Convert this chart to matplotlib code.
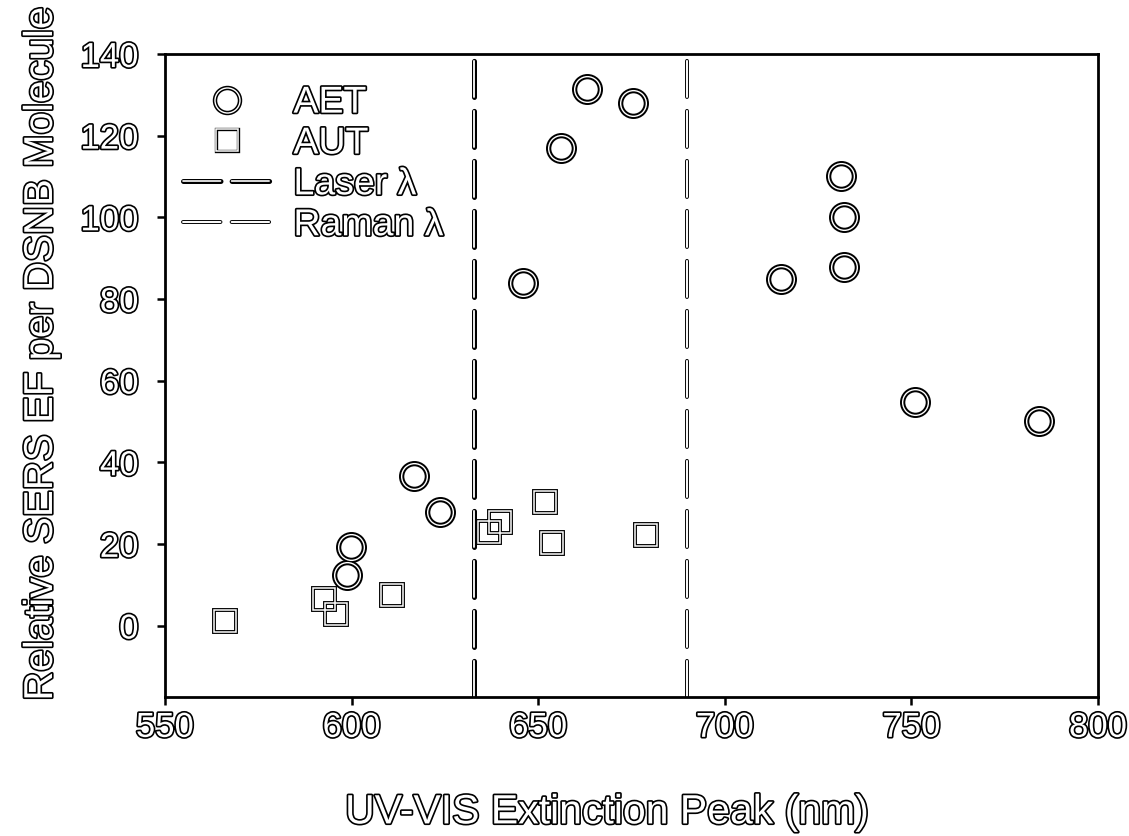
import matplotlib
matplotlib.use("Agg")
import matplotlib.pyplot as plt
import matplotlib.patheffects as pe
from matplotlib.lines import Line2D
from matplotlib.legend_handler import HandlerTuple

plt.rcParams["font.family"] = ["Liberation Sans", "DejaVu Sans"]
plt.rcParams["lines.scale_dashes"] = False

# extinction peak (nm) vs relative enhancement factor
aet_peak = [599.9, 598.8, 616.6, 623.6, 645.8, 656.2, 663.1, 675.3,
            715.0, 731.1, 731.9, 731.9, 751.0, 784.1]
aet_ef = [19.3, 12.3, 36.6, 27.8, 83.8, 116.9, 131.4, 128.0,
          84.8, 110.0, 100.1, 87.9, 54.7, 50.1]

aut_peak = [566.1, 592.6, 595.9, 610.8, 636.9, 639.7, 651.7, 653.7, 678.9]
aut_ef = [1.1, 6.4, 2.9, 7.4, 22.9, 25.3, 30.3, 20.3, 22.1]

laser_nm = 632.8
raman_nm = 690.0

x_ticks = [550, 600, 650, 700, 750, 800]
y_ticks = [0, 20, 40, 60, 80, 100, 120, 140]

hollow = [pe.withStroke(linewidth=2.4, foreground="black")]

fig = plt.figure(figsize=(11.29, 8.37), dpi=100)
ax = fig.add_axes([0.1461, 0.1661, 0.8265, 0.7682])

dash = (26, 10)

# vertical reference lines, drawn as outlined dashes
ax.axvline(laser_nm, color="black", lw=3.6, dashes=dash, dash_capstyle="round", zorder=2)
ax.axvline(laser_nm, color="white", lw=1.3, dashes=dash, dash_capstyle="round", zorder=2.1)
ax.axvline(raman_nm, color="black", lw=2.8, dashes=dash, dash_capstyle="round", zorder=2)
ax.axvline(raman_nm, color="white", lw=1.4, dashes=dash, dash_capstyle="round", zorder=2.1)

# ring markers: thick black ring with a thin white core
ax.plot(aet_peak, aet_ef, "o", ms=18.5, mfc="none", mec="black", mew=3.8, ls="none", zorder=3)
ax.plot(aet_peak, aet_ef, "o", ms=18.5, mfc="none", mec="white", mew=1.0, ls="none", zorder=3.1)

ax.plot(aut_peak, aut_ef, "s", ms=15.5, mfc="none", mec="black", mew=2.8, ls="none", zorder=3)
ax.plot(aut_peak, aut_ef, "s", ms=15.5, mfc="none", mec="white", mew=1.1, ls="none", zorder=3.1)

ax.set_xlim(550, 800)
ax.set_ylim(-17.5, 140)
ax.set_xticks(x_ticks)
ax.set_yticks(y_ticks)

for sp in ax.spines.values():
    sp.set_linewidth(2.0)

ax.tick_params(direction="out", length=6, width=1.8, labelsize=25)
ax.tick_params(axis="y", pad=13)
ax.tick_params(axis="x", pad=4)

for lab in ax.get_xticklabels() + ax.get_yticklabels():
    lab.set_color("white")
    lab.set_path_effects(hollow)

ax.set_xlabel("UV-VIS Extinction Peak (nm)", fontsize=29.5, color="white",
              path_effects=hollow)
ax.set_ylabel("Relative SERS EF per DSNB Molecule", fontsize=29, color="white",
              path_effects=hollow)
ax.xaxis.set_label_coords(0.474, -0.150)
ax.yaxis.set_label_coords(-0.1125, 0.533)

# legend handles built from overlaid black/white lines
h_aet = (Line2D([], [], marker="o", ms=18, mfc="none", mec="black", mew=3.2, ls="none"),
         Line2D([], [], marker="o", ms=18, mfc="none", mec="white", mew=1.0, ls="none"))
h_aut = (Line2D([], [], marker="s", ms=15.5, mfc="none", mec="black", mew=2.4, ls="none"),
         Line2D([], [], marker="s", ms=15.5, mfc="none", mec="white", mew=1.1, ls="none"))
leg_dash = (27, 8)
h_laser = (Line2D([], [], color="black", lw=3.6, dashes=leg_dash, dash_capstyle="round"),
           Line2D([], [], color="white", lw=1.2, dashes=leg_dash, dash_capstyle="round"))
h_raman = (Line2D([], [], color="black", lw=2.8, dashes=leg_dash, dash_capstyle="round"),
           Line2D([], [], color="white", lw=1.4, dashes=leg_dash, dash_capstyle="round"))

leg = ax.legend([h_aet, h_aut, h_laser, h_raman],
                ["AET", "AUT", "Laser λ", "Raman λ"],
                handler_map={tuple: HandlerTuple(ndivide=1)},
                loc="upper left", bbox_to_anchor=(-0.013, 0.999),
                frameon=False, fontsize=27, handlelength=2.35,
                handletextpad=0.6, labelspacing=0.13, borderaxespad=0.4)
for t in leg.get_texts():
    t.set_color("white")
    t.set_path_effects(hollow)

fig.savefig("out.png", dpi=100)
